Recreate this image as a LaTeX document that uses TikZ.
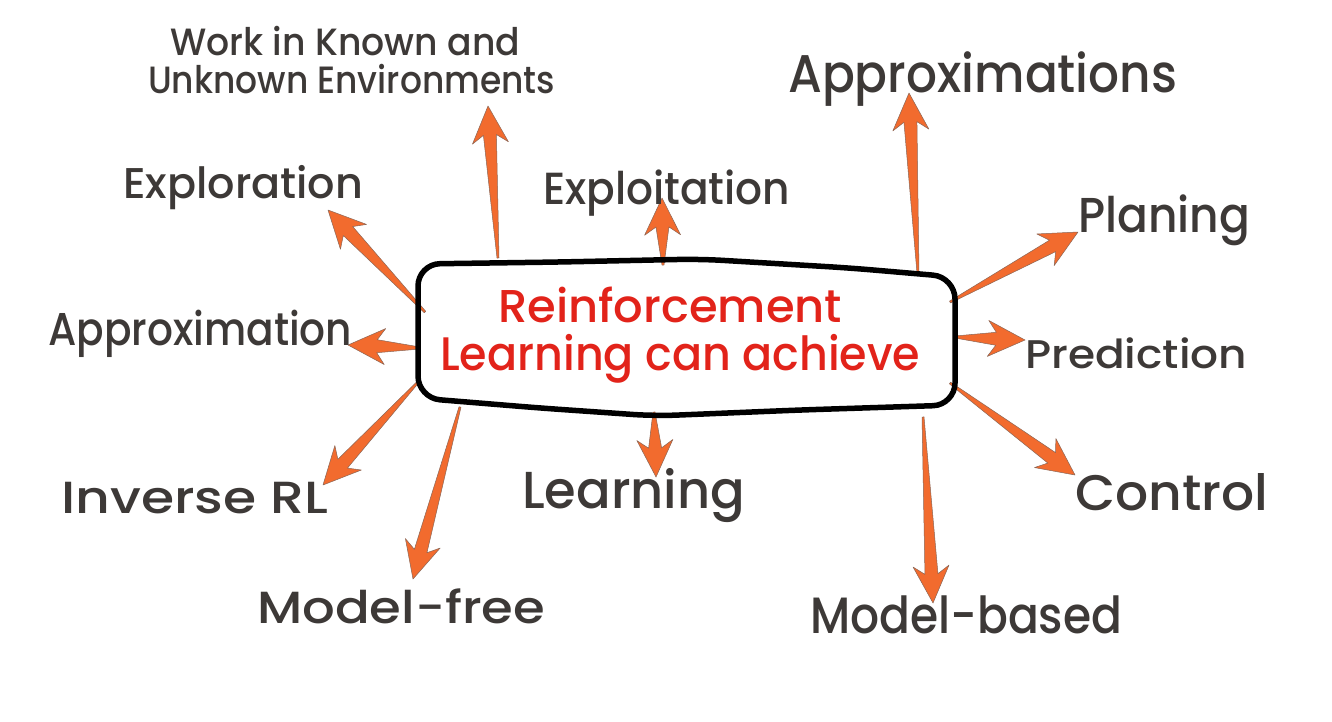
\documentclass[tikz,border=0pt]{standalone}
\usepackage{fontspec}
\setmainfont{Poppins}[UprightFont=* Medium]
\usetikzlibrary{calc}
\definecolor{arrfill}{HTML}{F26B2E}
\definecolor{arredge}{HTML}{8A6656}
\definecolor{txt}{HTML}{3D3937}
\definecolor{rltxt}{HTML}{E2231A}
\newcommand\lbl[3]{\resizebox{#1pt}{\height}{\fontsize{#2pt}{#2pt}\selectfont #3}}
\newcommand\taper[2]{%
  \coordinate (tmpN) at ($(#2)!29pt!(#1)$);
  \coordinate (tmpB) at ($(#2)!37pt!(#1)$);
  \filldraw[tarrow] ($(#1)!1pt!90:(#2)$) -- ($(tmpN)!6.5pt!90:(#2)$) -- ($(tmpB)!18pt!90:(#2)$)
    -- (#2) -- ($(tmpB)!18pt!-90:(#2)$) -- ($(tmpN)!6.5pt!-90:(#2)$) -- ($(#1)!1pt!-90:(#2)$) -- cycle;
}
\tikzset{
  tarrow/.style={fill=arrfill, draw=arredge, line width=0.5pt, line join=round},
  lab/.style={inner sep=0pt, anchor=base west, text=txt},
  rlbox/.style={draw=black, line width=5.5pt, rounded corners=22pt, line join=round},
}
\begin{document}
\begin{tikzpicture}[x=1pt,y=-1pt]
\useasboundingbox (0,0) rectangle (1332,721);
\fill[white] (0,0) rectangle (1332,721);

% arrow ends
\coordinate (t1) at (498,258);  \coordinate (h1) at (488,106);
\coordinate (t2) at (425,312);  \coordinate (h2) at (328,210);
\coordinate (t3) at (663,265);  \coordinate (h3) at (662,198);
\coordinate (t4) at (918,273);  \coordinate (h4) at (909,93);
\coordinate (t5) at (950,302);  \coordinate (h5) at (1078,232);
\coordinate (t6) at (955,337);  \coordinate (h6) at (1025,340);
\coordinate (t7) at (950,383);  \coordinate (h7) at (1075,475);
\coordinate (t8) at (923,417);  \coordinate (h8) at (933,603);
\coordinate (t9) at (654,412);  \coordinate (h9) at (656,477);
\coordinate (t10) at (460,407); \coordinate (h10) at (413,579);
\coordinate (t11) at (418,382); \coordinate (h11) at (323,485);
\coordinate (t12) at (420,348); \coordinate (h12) at (348,345);

\foreach \i in {1,...,12} {\taper{t\i}{h\i}}

% central box
\draw[rlbox] (418,264) -- (560,262) -- (700,259) -- (850,268) -- (955,277)
  -- (955,405) -- (800,410) -- (655,416) -- (540,408) -- (418,398)
  -- cycle;

\node[lab,text=rltxt] (rl1) at (498,322) {\lbl{344}{46}{Reinforcement}};
\node[lab,text=rltxt] (rl2) at (440,370) {\lbl{480}{47}{Learning can achieve}};

% labels
\node[lab] (work1) at (170,55) {\lbl{350}{38}{Work in Known and}};
\node[lab] (work2) at (148,93) {\lbl{407}{38}{Unknown Environments}};
\node[lab] (explor) at (123,198) {\lbl{240}{43}{Exploration}};
\node[lab] (exploit) at (543,204) {\lbl{247}{45}{Exploitation}};
\node[lab] (approxs) at (788,92) {\lbl{389}{53}{Approximations}};
\node[lab] (plan) at (1078,232) {\lbl{172}{49}{Planing}};
\node[lab] (pred) at (1025,368) {\lbl{222}{40}{Prediction}};
\node[lab] (ctrl) at (1075,510) {\lbl{193}{50}{Control}};
\node[lab] (mb) at (810,633) {\lbl{312}{51}{Model-based}};
\node[lab] (learn) at (522,508) {\lbl{223}{52}{Learning}};
\node[lab] (mf) at (257,623) {\lbl{288}{45}{Model-free}};
\node[lab] (inv) at (61,513) {\lbl{267}{45}{Inverse RL}};
\node[lab] (approx) at (48,345) {\lbl{304}{46}{Approximation}};
\end{tikzpicture}
\end{document}
